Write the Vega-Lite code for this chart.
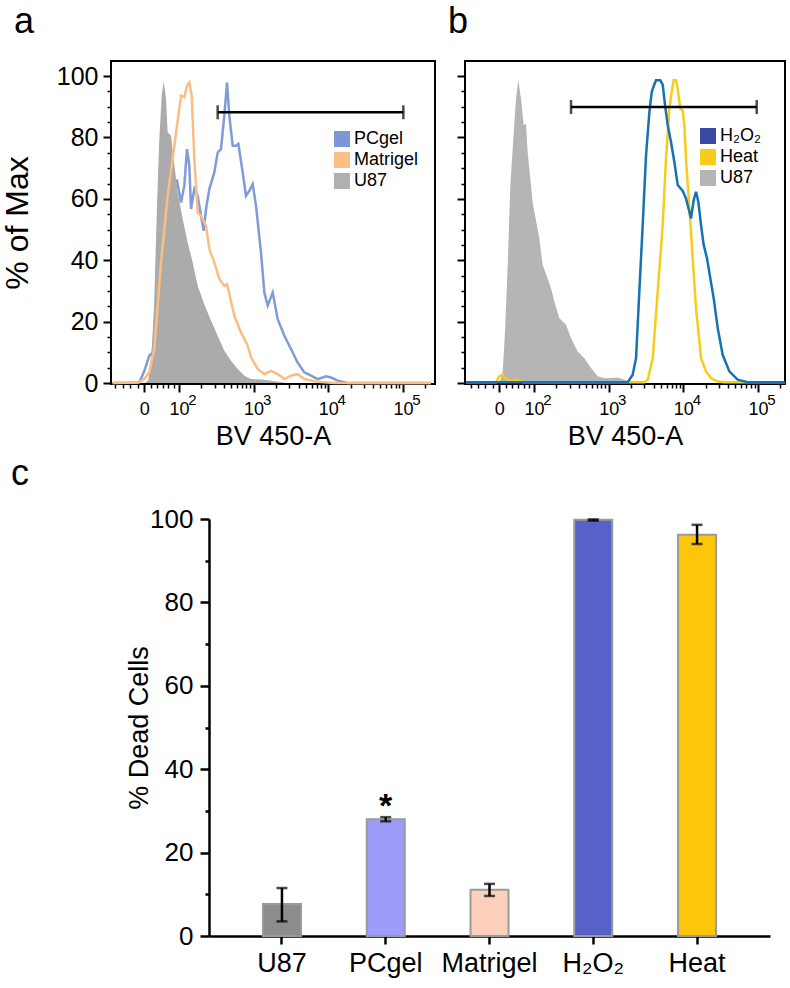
{
  "$schema": "https://vega.github.io/schema/vega-lite/v6.json",
  "padding": {"left": 0, "top": 3, "right": 5, "bottom": 5},
  "bounds": "flush",
  "spacing": 458,
  "datasets": {
    "histA": [
      {"s":"PCgel","u":1.112,"p":0},{"s":"PCgel","u":1.470,"p":0.2},{"s":"PCgel","u":1.537,"p":4.0},{"s":"PCgel","u":1.603,"p":8.9},{"s":"PCgel","u":1.648,"p":10.0},{"s":"PCgel","u":1.715,"p":27.4},{"s":"PCgel","u":1.782,"p":49.1},{"s":"PCgel","u":1.849,"p":64.3},{"s":"PCgel","u":1.871,"p":68.1},{"s":"PCgel","u":1.916,"p":65.4},{"s":"PCgel","u":1.974,"p":65.9},{"s":"PCgel","u":2.028,"p":58.8},{"s":"PCgel","u":2.072,"p":64.3},{"s":"PCgel","u":2.108,"p":76.2},{"s":"PCgel","u":2.139,"p":70.8},{"s":"PCgel","u":2.162,"p":56.7},{"s":"PCgel","u":2.206,"p":63.2},{"s":"PCgel","u":2.251,"p":61.0},{"s":"PCgel","u":2.296,"p":54.5},{"s":"PCgel","u":2.331,"p":49.6},{"s":"PCgel","u":2.363,"p":56.7},{"s":"PCgel","u":2.407,"p":63.2},{"s":"PCgel","u":2.474,"p":68.6},{"s":"PCgel","u":2.519,"p":75.1},{"s":"PCgel","u":2.563,"p":76.2},{"s":"PCgel","u":2.608,"p":87.1},{"s":"PCgel","u":2.644,"p":97.9},{"s":"PCgel","u":2.675,"p":87.1},{"s":"PCgel","u":2.720,"p":77.3},{"s":"PCgel","u":2.764,"p":77.3},{"s":"PCgel","u":2.796,"p":77.9},{"s":"PCgel","u":2.854,"p":68.6},{"s":"PCgel","u":2.898,"p":61.0},{"s":"PCgel","u":2.943,"p":62.6},{"s":"PCgel","u":2.988,"p":64.8},{"s":"PCgel","u":3.032,"p":57.8},{"s":"PCgel","u":3.099,"p":42.6},{"s":"PCgel","u":3.144,"p":29.5},{"s":"PCgel","u":3.189,"p":25.2},{"s":"PCgel","u":3.256,"p":29.5},{"s":"PCgel","u":3.323,"p":20.8},{"s":"PCgel","u":3.412,"p":15.4},{"s":"PCgel","u":3.501,"p":11.1},{"s":"PCgel","u":3.590,"p":6.7},{"s":"PCgel","u":3.680,"p":3.5},{"s":"PCgel","u":3.769,"p":2.4},{"s":"PCgel","u":3.858,"p":1.3},{"s":"PCgel","u":3.970,"p":2.2},{"s":"PCgel","u":4.037,"p":1.8},{"s":"PCgel","u":4.126,"p":0.8},{"s":"PCgel","u":4.260,"p":0},{"s":"PCgel","u":5.376,"p":0},
      {"s":"U87","u":1.545,"p":0},{"s":"U87","u":1.590,"p":1},{"s":"U87","u":1.635,"p":10.0},{"s":"U87","u":1.670,"p":27.4},{"s":"U87","u":1.706,"p":57.8},{"s":"U87","u":1.737,"p":79.5},{"s":"U87","u":1.769,"p":93.6},{"s":"U87","u":1.796,"p":98.2},{"s":"U87","u":1.827,"p":92.5},{"s":"U87","u":1.849,"p":81.6},{"s":"U87","u":1.894,"p":80.6},{"s":"U87","u":1.929,"p":73.0},{"s":"U87","u":1.983,"p":62.0},{"s":"U87","u":2.050,"p":53.4},{"s":"U87","u":2.117,"p":45.8},{"s":"U87","u":2.184,"p":39.3},{"s":"U87","u":2.251,"p":31.7},{"s":"U87","u":2.340,"p":25.7},{"s":"U87","u":2.430,"p":20.3},{"s":"U87","u":2.519,"p":15.4},{"s":"U87","u":2.608,"p":10.5},{"s":"U87","u":2.697,"p":7.3},{"s":"U87","u":2.787,"p":4.6},{"s":"U87","u":2.876,"p":2.4},{"s":"U87","u":2.965,"p":1.3},{"s":"U87","u":3.144,"p":1.1},{"s":"U87","u":3.323,"p":0.4},{"s":"U87","u":3.457,"p":0},
      {"s":"Matrigel","u":1.112,"p":0},{"s":"Matrigel","u":1.447,"p":0.2},{"s":"Matrigel","u":1.537,"p":1.3},{"s":"Matrigel","u":1.603,"p":3.5},{"s":"Matrigel","u":1.670,"p":11.1},{"s":"Matrigel","u":1.760,"p":39.3},{"s":"Matrigel","u":1.849,"p":61.0},{"s":"Matrigel","u":1.938,"p":77.3},{"s":"Matrigel","u":2.028,"p":93.6},{"s":"Matrigel","u":2.072,"p":93.1},{"s":"Matrigel","u":2.108,"p":96.9},{"s":"Matrigel","u":2.139,"p":97.9},{"s":"Matrigel","u":2.171,"p":93.6},{"s":"Matrigel","u":2.206,"p":73.0},{"s":"Matrigel","u":2.251,"p":55.6},{"s":"Matrigel","u":2.296,"p":54.5},{"s":"Matrigel","u":2.363,"p":51.2},{"s":"Matrigel","u":2.407,"p":43.6},{"s":"Matrigel","u":2.474,"p":39.3},{"s":"Matrigel","u":2.541,"p":33.9},{"s":"Matrigel","u":2.608,"p":31.7},{"s":"Matrigel","u":2.644,"p":32.2},{"s":"Matrigel","u":2.675,"p":29.0},{"s":"Matrigel","u":2.742,"p":21.9},{"s":"Matrigel","u":2.831,"p":16.5},{"s":"Matrigel","u":2.921,"p":12.2},{"s":"Matrigel","u":2.965,"p":8.4},{"s":"Matrigel","u":3.055,"p":4.6},{"s":"Matrigel","u":3.144,"p":2.9},{"s":"Matrigel","u":3.233,"p":4.0},{"s":"Matrigel","u":3.323,"p":2.9},{"s":"Matrigel","u":3.412,"p":1.3},{"s":"Matrigel","u":3.501,"p":2.4},{"s":"Matrigel","u":3.590,"p":2.9},{"s":"Matrigel","u":3.680,"p":1.3},{"s":"Matrigel","u":3.858,"p":0.4},{"s":"Matrigel","u":4.082,"p":0},{"s":"Matrigel","u":5.376,"p":0}
    ],
    "histB": [
      {"s":"U87","u":1.536,"p":0},{"s":"U87","u":1.581,"p":3.8},{"s":"U87","u":1.612,"p":16.8},{"s":"U87","u":1.648,"p":38.5},{"s":"U87","u":1.683,"p":64.5},{"s":"U87","u":1.715,"p":76.4},{"s":"U87","u":1.759,"p":92.6},{"s":"U87","u":1.790,"p":98.6},{"s":"U87","u":1.826,"p":92.6},{"s":"U87","u":1.862,"p":84.0},{"s":"U87","u":1.893,"p":84.5},{"s":"U87","u":1.915,"p":75.3},{"s":"U87","u":1.982,"p":59.0},{"s":"U87","u":2.005,"p":55.8},{"s":"U87","u":2.072,"p":47.1},{"s":"U87","u":2.116,"p":38.5},{"s":"U87","u":2.183,"p":34.1},{"s":"U87","u":2.228,"p":30.9},{"s":"U87","u":2.273,"p":26.5},{"s":"U87","u":2.340,"p":21.1},{"s":"U87","u":2.429,"p":19.0},{"s":"U87","u":2.496,"p":14.6},{"s":"U87","u":2.585,"p":10.3},{"s":"U87","u":2.674,"p":8.1},{"s":"U87","u":2.764,"p":4.9},{"s":"U87","u":2.853,"p":2.2},{"s":"U87","u":2.942,"p":1.6},{"s":"U87","u":3.121,"p":1.8},{"s":"U87","u":3.210,"p":1.1},{"s":"U87","u":3.300,"p":0.5},{"s":"U87","u":3.389,"p":0},
      {"s":"Heat","u":1.089,"p":0.3},{"s":"Heat","u":1.491,"p":0.3},{"s":"Heat","u":1.536,"p":2.2},{"s":"Heat","u":1.581,"p":2.7},{"s":"Heat","u":1.625,"p":1.4},{"s":"Heat","u":1.692,"p":0.5},{"s":"Heat","u":1.781,"p":1.1},{"s":"Heat","u":1.848,"p":0.3},{"s":"Heat","u":3.478,"p":0.3},{"s":"Heat","u":3.523,"p":1.1},{"s":"Heat","u":3.590,"p":8.1},{"s":"Heat","u":3.657,"p":29.8},{"s":"Heat","u":3.724,"p":51.5},{"s":"Heat","u":3.768,"p":73.1},{"s":"Heat","u":3.813,"p":89.4},{"s":"Heat","u":3.844,"p":94.8},{"s":"Heat","u":3.871,"p":98.6},{"s":"Heat","u":3.902,"p":98.6},{"s":"Heat","u":3.925,"p":95.9},{"s":"Heat","u":3.960,"p":89.4},{"s":"Heat","u":3.992,"p":88.8},{"s":"Heat","u":4.014,"p":83.9},{"s":"Heat","u":4.036,"p":73.1},{"s":"Heat","u":4.081,"p":56.9},{"s":"Heat","u":4.126,"p":40.6},{"s":"Heat","u":4.170,"p":24.4},{"s":"Heat","u":4.215,"p":13.6},{"s":"Heat","u":4.237,"p":8.1},{"s":"Heat","u":4.304,"p":3.8},{"s":"Heat","u":4.371,"p":1.6},{"s":"Heat","u":4.461,"p":0.5},{"s":"Heat","u":4.550,"p":0.3},{"s":"Heat","u":5.362,"p":0.3},
      {"s":"H₂O₂","u":1.089,"p":0.3},{"s":"H₂O₂","u":3.255,"p":0.3},{"s":"H₂O₂","u":3.322,"p":2.7},{"s":"H₂O₂","u":3.367,"p":8.1},{"s":"H₂O₂","u":3.411,"p":29.8},{"s":"H₂O₂","u":3.456,"p":51.5},{"s":"H₂O₂","u":3.501,"p":74.3},{"s":"H₂O₂","u":3.546,"p":88.3},{"s":"H₂O₂","u":3.577,"p":94.8},{"s":"H₂O₂","u":3.603,"p":96.7},{"s":"H₂O₂","u":3.634,"p":98.6},{"s":"H₂O₂","u":3.692,"p":98.6},{"s":"H₂O₂","u":3.724,"p":97.2},{"s":"H₂O₂","u":3.755,"p":90.5},{"s":"H₂O₂","u":3.791,"p":84.0},{"s":"H₂O₂","u":3.835,"p":78.5},{"s":"H₂O₂","u":3.880,"p":72.0},{"s":"H₂O₂","u":3.925,"p":64.5},{"s":"H₂O₂","u":3.992,"p":62.6},{"s":"H₂O₂","u":4.036,"p":60.1},{"s":"H₂O₂","u":4.081,"p":55.8},{"s":"H₂O₂","u":4.103,"p":53.6},{"s":"H₂O₂","u":4.139,"p":59.6},{"s":"H₂O₂","u":4.170,"p":62.3},{"s":"H₂O₂","u":4.202,"p":59.0},{"s":"H₂O₂","u":4.237,"p":51.5},{"s":"H₂O₂","u":4.273,"p":45.0},{"s":"H₂O₂","u":4.318,"p":40.6},{"s":"H₂O₂","u":4.362,"p":34.1},{"s":"H₂O₂","u":4.407,"p":27.6},{"s":"H₂O₂","u":4.461,"p":17.9},{"s":"H₂O₂","u":4.527,"p":9.2},{"s":"H₂O₂","u":4.617,"p":3.8},{"s":"H₂O₂","u":4.728,"p":1.1},{"s":"H₂O₂","u":4.862,"p":0.3},{"s":"H₂O₂","u":5.362,"p":0.3}
    ],
    "gateA": [{"x1":2.519,"x2":5.006,"y":88.2}],
    "gateB": [{"x1":2.496,"x2":4.983,"y":89.9}],
    "bars": [
      {"g":"U87","v":7.7,"lo":3.5,"hi":11.5,"sig":""},
      {"g":"PCgel","v":28,"lo":27.5,"hi":28.5,"sig":"*"},
      {"g":"Matrigel","v":11.1,"lo":9.6,"hi":12.5,"sig":""},
      {"g":"H₂O₂","v":99.8,"lo":99.6,"hi":99.9,"sig":""},
      {"g":"Heat","v":96.2,"lo":94,"hi":98.6,"sig":""}
    ]
  },
  "resolve": {"scale": {"color": "independent"}, "legend": {"color": "independent"}},
  "vconcat": [
    {
      "hconcat": [
        {
          "title": {"text": "a", "anchor": "start", "frame": "group", "dx": -97, "offset": -8, "baseline": "alphabetic", "fontSize": 36},
          "width": 324, "height": 323,
          "view": {"stroke": "black", "strokeWidth": 2},
          "resolve": {"axis": {"x": "independent", "y": "independent"}},
          "layer": [
            {
              "data": {"name": "histA"},
              "transform": [{"filter": "datum.s == 'PCgel'"}],
              "mark": {"type": "line", "color": "#7f9bd8", "strokeWidth": 2.5},
              "encoding": {
                "x": {"field": "u", "type": "quantitative", "scale": {"domain": [1.09, 5.43], "nice": false, "zero": false},
                  "axis": {"orient": "bottom", "values": [1.535, 2, 3, 4, 5], "labelExpr": "datum.value < 1.8 ? '0' : '10'", "title": "BV 450-A", "titleFontSize": 27, "labelFontSize": 18, "tickSize": 8, "tickWidth": 2, "domain": false, "labelPadding": 8, "titlePadding": 5, "labelOverlap": false, "labelFlush": false}},
                "y": {"field": "p", "type": "quantitative", "scale": {"domain": [-0.3, 104.9], "nice": false, "zero": false},
                  "axis": {"orient": "left", "values": [0, 20, 40, 60, 80, 100], "title": "% of Max", "titleFontSize": 32, "labelFontSize": 25, "tickSize": 8, "tickWidth": 2, "domain": false, "labelPadding": 5, "titlePadding": 22, "labelOverlap": false, "labelFlush": false}}
              }
            },
            {
              "data": {"name": "histA"},
              "transform": [{"filter": "datum.s == 'U87'"}],
              "mark": {"type": "area", "color": "#ababab", "opacity": 1},
              "encoding": {
                "x": {"field": "u", "type": "quantitative", "scale": {"domain": [1.09, 5.43], "nice": false, "zero": false},
                  "axis": {"orient": "bottom", "values": [1.15, 1.25, 1.35, 1.45, 1.62, 1.70, 1.78, 1.86, 1.93, 2.301, 2.477, 2.602, 2.699, 2.778, 2.845, 2.903, 2.954, 3.301, 3.477, 3.602, 3.699, 3.778, 3.845, 3.903, 3.954, 4.301, 4.477, 4.602, 4.699, 4.778, 4.845, 4.903, 4.954, 5.301], "labels": false, "title": null, "tickSize": 4, "tickWidth": 1.5, "domain": false}},
                "y": {"field": "p", "type": "quantitative", "scale": {"domain": [-0.3, 104.9], "nice": false, "zero": false},
                  "axis": {"orient": "left", "values": [5, 10, 15, 25, 30, 35, 45, 50, 55, 65, 70, 75, 85, 90, 95], "labels": false, "title": null, "tickSize": 4, "tickWidth": 1.5, "domain": false}}
              }
            },
            {
              "data": {"name": "histA"},
              "transform": [{"filter": "datum.s == 'Matrigel'"}],
              "mark": {"type": "line", "color": "#fbbd84", "strokeWidth": 2.5},
              "encoding": {
                "x": {"field": "u", "type": "quantitative", "scale": {"domain": [1.09, 5.43], "nice": false, "zero": false},
                  "axis": {"orient": "bottom", "values": [2, 3, 4, 5], "labelExpr": "'' + datum.value", "ticks": false, "tickSize": 8, "domain": false, "labelFontSize": 15, "labelPadding": 8, "labelOffset": 13, "labelDy": -8, "title": null, "labelOverlap": false, "labelFlush": false}},
                "y": {"field": "p", "type": "quantitative", "scale": {"domain": [-0.3, 104.9], "nice": false, "zero": false}, "axis": null}
              }
            },
            {
              "data": {"name": "gateA"},
              "mark": {"type": "rule", "color": "black", "strokeWidth": 2.5},
              "encoding": {
                "x": {"field": "x1", "type": "quantitative", "scale": {"domain": [1.09, 5.43], "nice": false, "zero": false}, "axis": null},
                "x2": {"field": "x2"},
                "y": {"field": "y", "type": "quantitative", "scale": {"domain": [-0.3, 104.9], "nice": false, "zero": false}, "axis": null}
              }
            },
            {
              "data": {"name": "gateA"},
              "mark": {"type": "tick", "orient": "vertical", "color": "black", "size": 14, "thickness": 2.5},
              "encoding": {
                "x": {"field": "x1", "type": "quantitative", "scale": {"domain": [1.09, 5.43], "nice": false, "zero": false}, "axis": null},
                "y": {"field": "y", "type": "quantitative", "scale": {"domain": [-0.3, 104.9], "nice": false, "zero": false}, "axis": null}
              }
            },
            {
              "data": {"name": "gateA"},
              "mark": {"type": "tick", "orient": "vertical", "color": "black", "size": 14, "thickness": 2.5},
              "encoding": {
                "x": {"field": "x2", "type": "quantitative", "scale": {"domain": [1.09, 5.43], "nice": false, "zero": false}, "axis": null},
                "y": {"field": "y", "type": "quantitative", "scale": {"domain": [-0.3, 104.9], "nice": false, "zero": false}, "axis": null}
              }
            },
            {
              "data": {"name": "histA"},
              "mark": {"type": "point", "filled": true, "opacity": 0},
              "encoding": {
                "x": {"field": "u", "type": "quantitative", "scale": {"domain": [1.09, 5.43], "nice": false, "zero": false}, "axis": null},
                "y": {"field": "p", "type": "quantitative", "scale": {"domain": [-0.3, 104.9], "nice": false, "zero": false}, "axis": null},
                "color": {"field": "s", "type": "nominal", "scale": {"domain": ["PCgel", "Matrigel", "U87"], "range": ["#7c97d6", "#fbbf85", "#b0b0b0"]},
                  "legend": {"title": null, "orient": "none", "legendX": 222, "legendY": 69, "symbolType": "square", "symbolSize": 256, "symbolOpacity": 1, "symbolStrokeWidth": 0, "labelFontSize": 18, "labelColor": "black", "rowPadding": 3, "labelOffset": 3, "padding": 0}}
              }
            }
          ]
        },
        {
          "title": {"text": "b", "anchor": "start", "frame": "group", "dx": -17, "offset": -8, "baseline": "alphabetic", "fontSize": 36},
          "width": 320, "height": 323,
          "view": {"stroke": "black", "strokeWidth": 2},
          "resolve": {"axis": {"x": "independent", "y": "independent"}},
          "layer": [
            {
              "data": {"name": "histB"},
              "transform": [{"filter": "datum.s == 'U87'"}],
              "mark": {"type": "area", "color": "#b5b5b5", "opacity": 1},
              "encoding": {
                "x": {"field": "u", "type": "quantitative", "scale": {"domain": [1.076, 5.362], "nice": false, "zero": false},
                  "axis": {"orient": "bottom", "values": [1.535, 2, 3, 4, 5], "labelExpr": "datum.value < 1.8 ? '0' : '10'", "title": "BV 450-A", "titleFontSize": 27, "labelFontSize": 18, "tickSize": 8, "tickWidth": 2, "domain": false, "labelPadding": 8, "titlePadding": 5, "labelOverlap": false, "labelFlush": false}},
                "y": {"field": "p", "type": "quantitative", "scale": {"domain": [-0.3, 104.9], "nice": false, "zero": false},
                  "axis": {"orient": "left", "values": [0, 20, 40, 60, 80, 100], "labels": false, "title": null, "tickSize": 8, "tickWidth": 2, "domain": false}}
              }
            },
            {
              "data": {"name": "histB"},
              "transform": [{"filter": "datum.s == 'Heat'"}],
              "mark": {"type": "line", "color": "#f7cd1c", "strokeWidth": 2.5},
              "encoding": {
                "x": {"field": "u", "type": "quantitative", "scale": {"domain": [1.076, 5.362], "nice": false, "zero": false},
                  "axis": {"orient": "bottom", "values": [1.15, 1.25, 1.35, 1.45, 1.62, 1.70, 1.78, 1.86, 1.93, 2.301, 2.477, 2.602, 2.699, 2.778, 2.845, 2.903, 2.954, 3.301, 3.477, 3.602, 3.699, 3.778, 3.845, 3.903, 3.954, 4.301, 4.477, 4.602, 4.699, 4.778, 4.845, 4.903, 4.954, 5.301], "labels": false, "title": null, "tickSize": 4, "tickWidth": 1.5, "domain": false}},
                "y": {"field": "p", "type": "quantitative", "scale": {"domain": [-0.3, 104.9], "nice": false, "zero": false},
                  "axis": {"orient": "left", "values": [5, 10, 15, 25, 30, 35, 45, 50, 55, 65, 70, 75, 85, 90, 95], "labels": false, "title": null, "tickSize": 4, "tickWidth": 1.5, "domain": false}}
              }
            },
            {
              "data": {"name": "histB"},
              "transform": [{"filter": "datum.s == 'H₂O₂'"}],
              "mark": {"type": "line", "color": "#1673b3", "strokeWidth": 2.5},
              "encoding": {
                "x": {"field": "u", "type": "quantitative", "scale": {"domain": [1.076, 5.362], "nice": false, "zero": false},
                  "axis": {"orient": "bottom", "values": [2, 3, 4, 5], "labelExpr": "'' + datum.value", "ticks": false, "tickSize": 8, "domain": false, "labelFontSize": 15, "labelPadding": 8, "labelOffset": 13, "labelDy": -8, "title": null, "labelOverlap": false, "labelFlush": false}},
                "y": {"field": "p", "type": "quantitative", "scale": {"domain": [-0.3, 104.9], "nice": false, "zero": false}, "axis": null}
              }
            },
            {
              "data": {"name": "gateB"},
              "mark": {"type": "rule", "color": "black", "strokeWidth": 2.5},
              "encoding": {
                "x": {"field": "x1", "type": "quantitative", "scale": {"domain": [1.076, 5.362], "nice": false, "zero": false}, "axis": null},
                "x2": {"field": "x2"},
                "y": {"field": "y", "type": "quantitative", "scale": {"domain": [-0.3, 104.9], "nice": false, "zero": false}, "axis": null}
              }
            },
            {
              "data": {"name": "gateB"},
              "mark": {"type": "tick", "orient": "vertical", "color": "black", "size": 14, "thickness": 2.5},
              "encoding": {
                "x": {"field": "x1", "type": "quantitative", "scale": {"domain": [1.076, 5.362], "nice": false, "zero": false}, "axis": null},
                "y": {"field": "y", "type": "quantitative", "scale": {"domain": [-0.3, 104.9], "nice": false, "zero": false}, "axis": null}
              }
            },
            {
              "data": {"name": "gateB"},
              "mark": {"type": "tick", "orient": "vertical", "color": "black", "size": 14, "thickness": 2.5},
              "encoding": {
                "x": {"field": "x2", "type": "quantitative", "scale": {"domain": [1.076, 5.362], "nice": false, "zero": false}, "axis": null},
                "y": {"field": "y", "type": "quantitative", "scale": {"domain": [-0.3, 104.9], "nice": false, "zero": false}, "axis": null}
              }
            },
            {
              "data": {"name": "histB"},
              "mark": {"type": "point", "filled": true, "opacity": 0},
              "encoding": {
                "x": {"field": "u", "type": "quantitative", "scale": {"domain": [1.076, 5.362], "nice": false, "zero": false}, "axis": null},
                "y": {"field": "p", "type": "quantitative", "scale": {"domain": [-0.3, 104.9], "nice": false, "zero": false}, "axis": null},
                "color": {"field": "s", "type": "nominal", "scale": {"domain": ["H₂O₂", "Heat", "U87"], "range": ["#3a4aa6", "#f6cd1a", "#b5b5b5"]},
                  "legend": {"title": null, "orient": "none", "legendX": 234, "legendY": 66, "symbolType": "square", "symbolSize": 256, "symbolOpacity": 1, "symbolStrokeWidth": 0, "labelFontSize": 18, "labelColor": "black", "rowPadding": 3, "labelOffset": 3, "padding": 0}}
              }
            }
          ]
        }
      ],
      "spacing": 30,
      "bounds": "flush",
      "resolve": {"scale": {"color": "independent"}, "legend": {"color": "independent"}}
    },
    {
      "hconcat": [
        {
          "width": 98, "height": 417,
          "data": {"values": []},
          "mark": {"type": "point", "opacity": 0},
          "encoding": {}
        },
        {
          "title": {"text": "c", "anchor": "start", "frame": "group", "dx": -198, "offset": -15, "baseline": "alphabetic", "fontSize": 36},
          "width": 561, "height": 417,
          "data": {"name": "bars"},
          "resolve": {"axis": {"y": "independent"}},
          "layer": [
            {
              "mark": {"type": "bar", "stroke": "#9a9a9a", "strokeWidth": 2},
              "encoding": {
                "x": {"field": "g", "type": "nominal", "sort": null, "scale": {"paddingInner": 0.634, "paddingOuter": 0.52},
                  "axis": {"title": null, "labelFontSize": 27, "labelAngle": 0, "tickSize": 8, "tickWidth": 2.5, "domainWidth": 2.5, "labelPadding": 6}},
                "y": {"field": "v", "type": "quantitative", "scale": {"domain": [0, 100], "nice": false},
                  "axis": {"orient": "left", "values": [0, 20, 40, 60, 80, 100], "title": "% Dead Cells", "titleFontSize": 27, "labelFontSize": 26, "tickSize": 9, "tickWidth": 2.5, "domainWidth": 2.5, "labelPadding": 7, "titlePadding": -4, "labelFlush": false}},
                "color": {"field": "g", "type": "nominal", "scale": {"domain": ["U87", "PCgel", "Matrigel", "H₂O₂", "Heat"], "range": ["#8c8c8c", "#9d9cfa", "#fdd0bd", "#5662c8", "#fdc60b"]}, "legend": null}
              }
            },
            {
              "mark": {"type": "rule", "color": "black", "strokeWidth": 2.5},
              "encoding": {
                "x": {"field": "g", "type": "nominal", "sort": null},
                "y": {"field": "lo", "type": "quantitative", "scale": {"domain": [0, 100], "nice": false},
                  "axis": {"orient": "left", "values": [10, 30, 50, 70, 90], "labels": false, "title": null, "tickSize": 4, "tickWidth": 2.5, "domain": false}},
                "y2": {"field": "hi"}
              }
            },
            {
              "mark": {"type": "tick", "color": "black", "size": 11, "thickness": 2.5},
              "encoding": {
                "x": {"field": "g", "type": "nominal", "sort": null},
                "y": {"field": "lo", "type": "quantitative", "scale": {"domain": [0, 100], "nice": false}, "axis": null}
              }
            },
            {
              "mark": {"type": "tick", "color": "black", "size": 11, "thickness": 2.5},
              "encoding": {
                "x": {"field": "g", "type": "nominal", "sort": null},
                "y": {"field": "hi", "type": "quantitative", "scale": {"domain": [0, 100], "nice": false}, "axis": null}
              }
            },
            {
              "transform": [{"filter": "datum.sig != ''"}],
              "mark": {"type": "text", "fontSize": 34, "fontWeight": "bold", "baseline": "alphabetic", "color": "black"},
              "encoding": {
                "x": {"field": "g", "type": "nominal", "sort": null},
                "y": {"field": "hi", "type": "quantitative", "scale": {"domain": [0, 100], "nice": false}, "axis": null},
                "text": {"field": "sig"}
              }
            }
          ]
        }
      ],
      "spacing": 0,
      "bounds": "flush"
    }
  ],
  "config": {
    "view": {"stroke": null},
    "font": "Liberation Sans",
    "axis": {"labelFont": "Liberation Sans", "titleFont": "Liberation Sans", "labelColor": "black", "titleColor": "black", "tickColor": "black", "domainColor": "black", "titleFontWeight": "normal", "grid": false},
    "legend": {"labelFont": "Liberation Sans"},
    "title": {"font": "Liberation Sans", "fontWeight": "normal", "color": "black"},
    "text": {"font": "Liberation Sans"}
  }
}
